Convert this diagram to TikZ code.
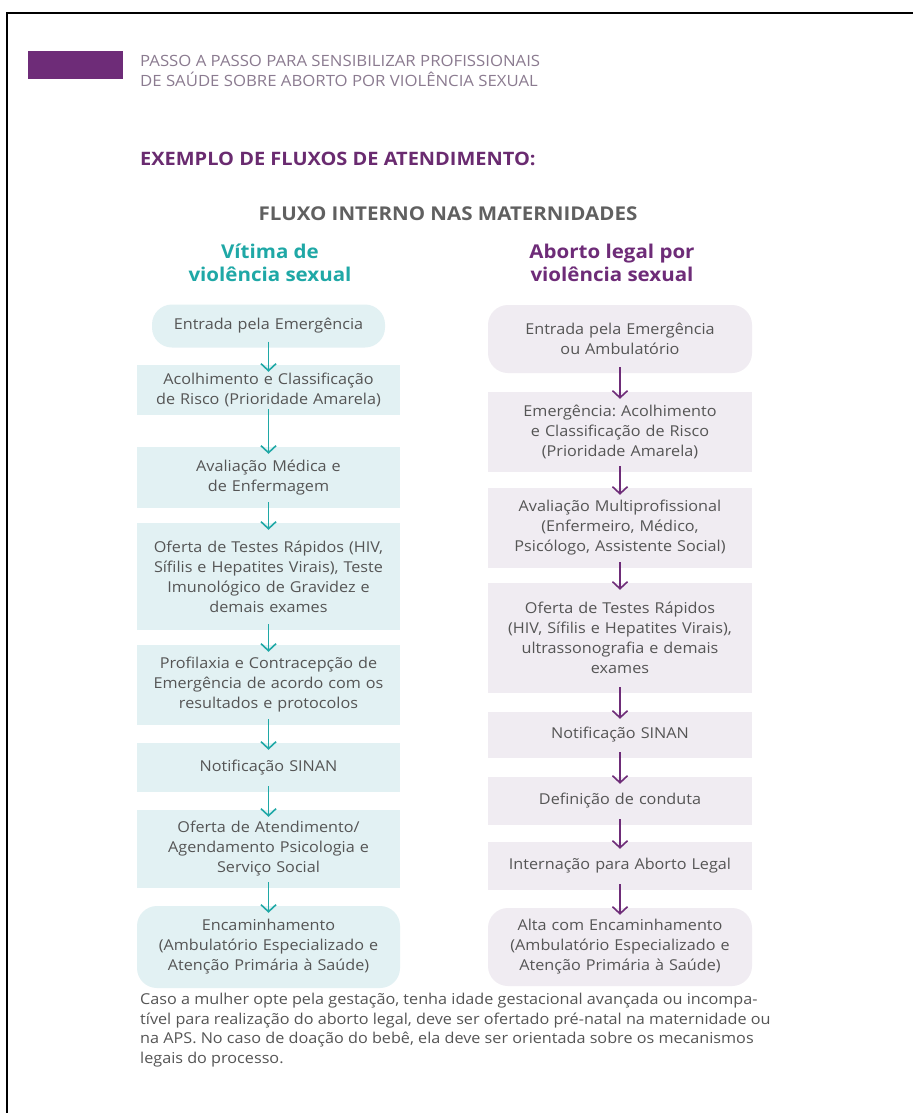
\documentclass[tikz,border=0pt]{standalone}
\usepackage{fontspec}
\setmainfont{Open Sans}[FakeStretch=1.08]
\usetikzlibrary{arrows.meta}
\frenchspacing
\definecolor{tealc}{HTML}{1FA8A6}
\definecolor{tealbg}{HTML}{E2F1F3}
\definecolor{purc}{HTML}{6E2C78}
\definecolor{purbg}{HTML}{F0ECF2}
\definecolor{txt}{HTML}{555555}
\definecolor{headc}{HTML}{8B7B90}
\definecolor{titc}{HTML}{6A2B70}
\definecolor{grayt}{HTML}{606060}
\tikzset{
  boxtext/.style={font=\fontsize{15}{20}\selectfont, text=txt, align=center, inner sep=0pt},
  lbox/.style={boxtext, fill=tealbg, minimum width=263pt, text width=257pt},
  rbox/.style={boxtext, fill=purbg, minimum width=264pt, text width=258pt},
  lround/.style={lbox, rounded corners=20pt},
  rround/.style={rbox, rounded corners=20pt},
  larr/.style={draw=tealc, line width=1.6pt, -{Straight Barb[length=7pt,width=15pt,line width=1.6pt]}},
  rarr/.style={draw=purc, line width=1.6pt, -{Straight Barb[length=7pt,width=15pt,line width=1.6pt]}},
  coltitle/.style={font=\fontsize{19}{23}\selectfont\bfseries, align=center, inner sep=0pt}
}
\begin{document}
\begin{tikzpicture}[x=1pt,y=-1pt]
\useasboundingbox (0,0) rectangle (913,1113);
\fill[white] (0,0) rectangle (913,1113);
% frame
\draw[line width=2.5pt] (7,1113) -- (7,13) -- (913,13);
% header
\fill[purc] (28,51) rectangle (123,79);
\node[anchor=base west, inner sep=0pt, text=headc, font=\fontsize{15.5}{20}\selectfont] (h1) at (140,67) {PASSO A PASSO PARA SENSIBILIZAR PROFISSIONAIS};
\node[anchor=base west, inner sep=0pt, text=headc, font=\fontsize{15.5}{20}\selectfont] (h2) at (140,87) {DE SAÚDE SOBRE ABORTO POR VIOLÊNCIA SEXUAL};
\node[anchor=base west, inner sep=0pt, text=titc, font=\fontsize{18.5}{22}\selectfont\bfseries] (ex) at (140,165) {EXEMPLO DE FLUXOS DE ATENDIMENTO:};
\node[anchor=base, inner sep=0pt, text=grayt, font=\fontsize{19}{22}\selectfont\bfseries] (fl) at (448,220) {FLUXO INTERNO NAS MATERNIDADES};
\node[coltitle, text=tealc, anchor=base] (lt) at (270,281) {Vítima de\\violência sexual};
\node[coltitle, text=purc, anchor=base] (rt) at (612,281) {Aborto legal por\\violência sexual};
% left column
\node[lround, minimum width=233pt, text width=227pt, minimum height=43pt] (L1) at (268.5,326) {Entrada pela Emergência};
\node[lbox, minimum height=50pt] (L2) at (268.5,390) {Acolhimento e Classificação\\de Risco (Prioridade Amarela)};
\node[lbox, minimum height=61pt] (L3) at (268.5,477.5) {Avaliação Médica e\\de Enfermagem};
\node[lbox, minimum height=107pt] (L4) at (268.5,576.5) {Oferta de Testes Rápidos (HIV,\\Sífilis e Hepatites Virais), Teste\\Imunológico de Gravidez e\\demais exames};
\node[lbox, minimum height=80pt] (L5) at (268.5,685) {Profilaxia e Contracepção de\\Emergência de acordo com os\\resultados e protocolos};
\node[lbox, minimum height=49pt] (L6) at (268.5,767.5) {Notificação SINAN};
\node[lbox, minimum height=78pt] (L7) at (268.5,849) {Oferta de Atendimento/\\Agendamento Psicologia e\\Serviço Social};
\node[lround, minimum height=82pt] (L8) at (268.5,947) {Encaminhamento\\(Ambulatório Especializado e\\Atenção Primária à Saúde)};
% right column
\node[rround, minimum height=68pt] (R1) at (620,339) {Entrada pela Emergência\\ou Ambulatório};
\node[rbox, minimum height=80pt] (R2) at (620,432) {Emergência: Acolhimento\\e Classificação de Risco\\(Prioridade Amarela)};
\node[rbox, minimum height=80pt] (R3) at (620,528) {Avaliação Multiprofissional\\(Enfermeiro, Médico,\\Psicólogo, Assistente Social)};
\node[rbox, minimum height=110pt] (R4) at (620,638) {Oferta de Testes Rápidos\\(HIV, Sífilis e Hepatites Virais),\\ultrassonografia e demais\\exames};
\node[rbox, minimum height=46pt] (R5) at (620,735) {Notificação SINAN};
\node[rbox, minimum height=48pt] (R6) at (620,801) {Definição de conduta};
\node[rbox, minimum height=48pt] (R7) at (620,866) {Internação para Aborto Legal};
\node[rround, minimum height=78pt] (R8) at (620,947) {Alta com Encaminhamento\\(Ambulatório Especializado e\\Atenção Primária à Saúde)};
% arrows
\foreach \a/\b in {L1/L2,L2/L3,L3/L4,L4/L5,L5/L6,L6/L7,L7/L8}
  \draw[larr] ([yshift=6pt]\a.south) -- ([yshift=-7pt]\b.north);
\foreach \a/\b in {R1/R2,R2/R3,R3/R4,R4/R5,R5/R6,R6/R7,R7/R8}
  \draw[rarr] ([yshift=6pt]\a.south) -- ([yshift=-7pt]\b.north);
% footnote
\node[anchor=base west, inner sep=0pt, text=txt, align=left, font=\fontsize{15}{19.5}\selectfont] (note) at (140,1063) {Caso a mulher opte pela gestação, tenha idade gestacional avançada ou incompa-\\tível para realização do aborto legal, deve ser ofertado pré-natal na maternidade ou\\na APS. No caso de doação do bebê, ela deve ser orientada sobre os mecanismos\\legais do processo.};
\end{tikzpicture}
\end{document}
